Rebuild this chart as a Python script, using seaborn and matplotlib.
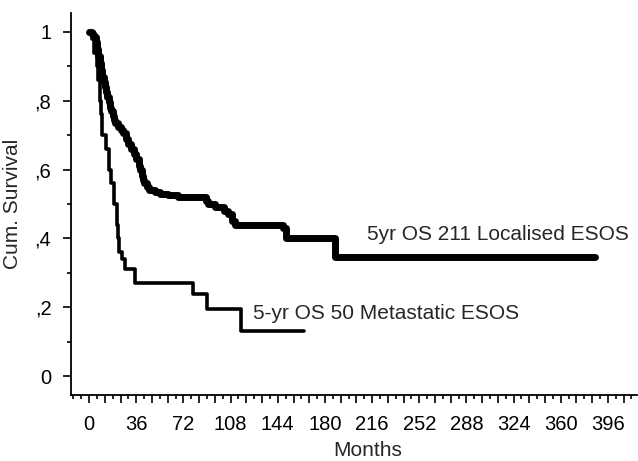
import pandas as pd
import matplotlib
matplotlib.use("Agg")
import matplotlib.pyplot as plt
import seaborn as sns
from matplotlib.ticker import MultipleLocator

# -----------------------------
# Data
# -----------------------------
loc_months = [0, 1, 2, 3, 4, 5, 6, 7, 8, 9, 10, 11, 12, 13, 14, 15, 16, 17, 18, 19,
              20, 22, 24, 26, 28, 30, 32, 34, 36, 38, 39, 40, 41, 42, 44, 46, 50,
              54, 60, 68, 89, 91, 96, 103, 106, 109, 111, 148, 150, 188, 386]
loc_surv = [1.0, 1.0, 0.995, 0.99, 0.985, 0.97, 0.95, 0.93, 0.91, 0.89, 0.87, 0.855,
            0.84, 0.825, 0.81, 0.795, 0.78, 0.77, 0.755, 0.745, 0.735, 0.725, 0.715,
            0.705, 0.69, 0.675, 0.66, 0.645, 0.63, 0.61, 0.60, 0.58, 0.57, 0.56,
            0.55, 0.54, 0.535, 0.53, 0.525, 0.52, 0.51, 0.50, 0.49, 0.48, 0.47,
            0.45, 0.44, 0.43, 0.40, 0.345, 0.345]

met_months = [0, 2, 4, 6, 7, 8, 9, 10, 13, 15, 17, 19, 21, 22, 23, 25, 27, 35,
              79, 90, 116, 164]
met_surv = [1.0, 0.98, 0.94, 0.90, 0.86, 0.80, 0.76, 0.70, 0.66, 0.60, 0.56, 0.50,
            0.44, 0.40, 0.36, 0.34, 0.31, 0.27, 0.24, 0.195, 0.13, 0.13]

loc_label = "5yr OS 211 Localised ESOS"
met_label = "5-yr OS 50 Metastatic ESOS"

x_ticks = [0, 36, 72, 108, 144, 180, 216, 252, 288, 324, 360, 396]
y_ticks = [0, 0.2, 0.4, 0.6, 0.8, 1.0]
y_tick_labels = ["0", ",2", ",4", ",6", ",8", "1"]

loc_df = pd.DataFrame({"Months": loc_months, "Cum. Survival": loc_surv})
met_df = pd.DataFrame({"Months": met_months, "Cum. Survival": met_surv})

# -----------------------------
# Plot
# -----------------------------
sns.set_style("ticks")
plt.rcParams["font.family"] = ["Liberation Sans", "DejaVu Sans"]

fig = plt.figure(figsize=(6.38, 4.61), dpi=100)
ax = fig.add_axes([0.111, 0.143, 0.887, 0.829])

sns.lineplot(data=loc_df, x="Months", y="Cum. Survival", ax=ax, color="black",
             linewidth=5.0, drawstyle="steps-post", estimator=None, sort=False)
sns.lineplot(data=met_df, x="Months", y="Cum. Survival", ax=ax, color="black",
             linewidth=2.6, drawstyle="steps-post", estimator=None, sort=False)

ax.text(212, 0.41, loc_label, fontsize=15, va="center", ha="left")
ax.text(125, 0.183, met_label, fontsize=15, va="center", ha="left")

ax.set_xlim(-14, 418)
ax.set_ylim(-0.055, 1.055)

# long ticks every 12 months, labels every 36, short ticks every 6
major_x = list(range(0, 420, 12))
ax.set_xticks(major_x)
ax.set_xticklabels([str(t) if t in x_ticks else "" for t in major_x])
ax.xaxis.set_minor_locator(MultipleLocator(6))
ax.set_yticks(y_ticks)
ax.set_yticklabels(y_tick_labels)
ax.yaxis.set_minor_locator(MultipleLocator(0.1))

ax.tick_params(axis="both", which="major", labelsize=14.5, length=6, width=1.2,
               color="black", labelcolor="black")
ax.tick_params(axis="x", which="major", pad=8)
ax.tick_params(axis="y", which="major", pad=8)
ax.tick_params(axis="both", which="minor", length=3, width=1.2, color="black")

sns.despine(ax=ax)
for s in ["left", "bottom"]:
    ax.spines[s].set_linewidth(1.3)
    ax.spines[s].set_color("black")

ax.set_xlabel("Months", fontsize=15)
ax.set_ylabel("Cum. Survival", fontsize=15)
ax.xaxis.set_label_coords(0.525, -0.12)
ax.yaxis.set_label_coords(-0.087, 0.5)

fig.savefig("out.png", dpi=100)
